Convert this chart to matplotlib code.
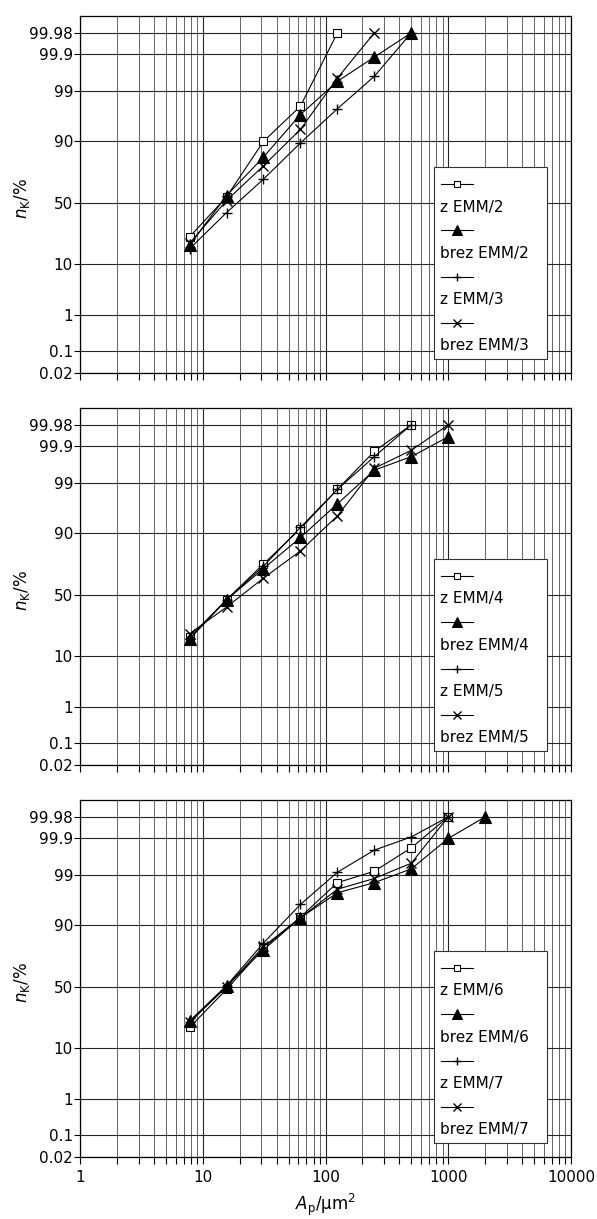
import matplotlib
matplotlib.use('Agg')
import matplotlib.pyplot as plt
import numpy as np
from matplotlib.lines import Line2D
from matplotlib.patches import Rectangle
from matplotlib.ticker import FixedLocator, NullLocator, NullFormatter, LogLocator
from statistics import NormalDist

plt.rcParams['font.family'] = 'DejaVu Sans'
plt.rcParams['mathtext.fontset'] = 'dejavusans'

# particle area classes (um^2), doubling series
area = [7.8125, 15.625, 31.25, 62.5, 125, 250, 500, 1000, 2000]

# cumulative share n_K in %
# panel 1
z_emm2 = [24, 55, 90, 97.8, 99.98]
brez_emm2 = [19, 56, 83, 96.7, 99.43, 99.88, 99.98]
z_emm3 = [17, 42, 69, 89.4, 97.5, 99.58, 99.98]
brez_emm3 = [20, 52, 78, 93.7, 99.53, 99.98]
# panel 2
z_emm4 = [19, 46, 74, 91.6, 98.6, 99.86, 99.98]
brez_emm4 = [18, 46, 70.8, 88.4, 97.1, 99.53, 99.80, 99.95]
z_emm5 = [18, 46, 72.5, 92, 98.6, 99.8, 99.98]
brez_emm5 = [21, 40, 63.7, 82, 95, 99.58, 99.87, 99.98]
# panel 3
z_emm6 = [20, 48, 79, 92.7, 98.5, 99.2, 99.81, 99.98]
brez_emm6 = [24, 51, 78, 92.5, 97.5, 98.5, 99.3, 99.90, 99.98]
z_emm7 = [23, 51, 82, 95.7, 99.15, 99.78, 99.91, 99.98]
brez_emm7 = [23, 50, 80, 92.5, 97.9, 98.8, 99.5, 99.98]

panels = [
    [('z EMM/2', z_emm2), ('brez EMM/2', brez_emm2), ('z EMM/3', z_emm3), ('brez EMM/3', brez_emm3)],
    [('z EMM/4', z_emm4), ('brez EMM/4', brez_emm4), ('z EMM/5', z_emm5), ('brez EMM/5', brez_emm5)],
    [('z EMM/6', z_emm6), ('brez EMM/6', brez_emm6), ('z EMM/7', z_emm7), ('brez EMM/7', brez_emm7)],
]

y_ticks = [0.02, 0.1, 1, 10, 50, 90, 99, 99.9, 99.98]
y_ticklabels = ['0.02', '0.1', '1', '10', '50', '90', '99', '99.9', '99.98']
x_ticks = [1, 10, 100, 1000, 10000]
x_ticklabels = ['1', '10', '100', '1000', '10000']

# marker styles per series (open square, filled triangle, plus, cross)
styles = [
    dict(marker='s', ms=5.5, mfc='white', mec='black', mew=0.8),
    dict(marker='^', ms=8, mfc='black', mec='black', mew=0.8),
    dict(marker='+', ms=7, mfc='black', mec='black', mew=1.0),
    dict(marker='x', ms=7, mfc='black', mec='black', mew=1.0),
]
legend_ms = [4.5, 7, 6, 6]

# normal-probability scale for the y axis
_nd = NormalDist()


def prob_fwd(p):
    p = np.clip(np.asarray(p, dtype=float), 1e-7, 100 - 1e-7)
    return np.vectorize(lambda v: _nd.inv_cdf(v / 100.0), otypes=[float])(p)


def prob_inv(z):
    z = np.clip(np.asarray(z, dtype=float), -8, 8)
    return np.vectorize(lambda v: _nd.cdf(v) * 100.0, otypes=[float])(z)


fig = plt.figure(figsize=(5.97, 12.19), dpi=100)
W, H = 597, 1219
left_px, right_px = 80, 571
tops = [16, 408, 800]
ph = 357

for i, (series, top) in enumerate(zip(panels, tops)):
    ax = fig.add_axes([left_px / W, 1 - (top + ph) / H, (right_px - left_px) / W, ph / H])
    ax.set_xscale('log')
    ax.set_yscale('function', functions=(prob_fwd, prob_inv))
    ax.set_xlim(1, 10000)
    ax.set_ylim(0.02, 99.995)

    ax.yaxis.set_major_locator(FixedLocator(y_ticks))
    ax.set_yticklabels(y_ticklabels)
    ax.yaxis.set_minor_locator(NullLocator())
    ax.xaxis.set_major_locator(FixedLocator(x_ticks))
    ax.xaxis.set_minor_locator(LogLocator(base=10, subs=np.arange(2, 10)))
    ax.xaxis.set_minor_formatter(NullFormatter())
    if i == 2:
        ax.set_xticklabels(x_ticklabels)
        ax.set_xlabel(r'$A_\mathrm{p}$/µm$^2$', fontsize=12, labelpad=5)
    else:
        ax.set_xticklabels([])

    ax.tick_params(axis='both', which='both', direction='out', labelsize=11, width=0.8, color='black')
    ax.tick_params(axis='x', which='both', length=5)
    ax.tick_params(axis='y', which='major', length=4, pad=1)
    ax.tick_params(axis='x', which='major', pad=4)

    ax.grid(True, which='major', axis='both', color='0.15', lw=0.8)
    ax.grid(True, which='minor', axis='x', color='0.3', lw=0.6)
    ax.set_axisbelow(True)
    for sp in ax.spines.values():
        sp.set_linewidth(0.9)

    ax.set_ylabel(r'$n_\mathrm{K}$/%', fontsize=12)
    ax.yaxis.set_label_coords(-0.098, 0.49)

    for (label, vals), st in zip(series, styles):
        ax.plot(area[:len(vals)], vals, color='black', lw=0.8, zorder=3, **st)

    # legend: handle on one row, label on the next row
    bx0, bx1 = (434 - left_px) / 491, (547 - left_px) / 491
    btop = 1 - 151 / ph
    bbot = 14 / ph
    ax.add_patch(Rectangle((bx0, bbot), bx1 - bx0, btop - bbot, transform=ax.transAxes,
                           facecolor='white', edgecolor='0.2', lw=0.8, zorder=5))
    hx0, hx1 = (441 - left_px) / 491, (473 - left_px) / 491
    for k, ((label, vals), st) in enumerate(zip(series, styles)):
        yh = btop - (17 + 46.3 * k) / ph
        yt = btop - (40 + 46.3 * k) / ph
        ax.add_line(Line2D([hx0, hx1], [yh, yh], color='black', lw=0.8, transform=ax.transAxes,
                           zorder=6, clip_on=False))
        lst = dict(st)
        lst['ms'] = legend_ms[k]
        ax.add_line(Line2D([(hx0 + hx1) / 2], [yh], transform=ax.transAxes, zorder=7,
                           clip_on=False, ls='none', **lst))
        ax.text(hx0 - 0.003, yt, label, transform=ax.transAxes, fontsize=11, va='center',
                ha='left', zorder=7)

fig.savefig('out.png', dpi=100, facecolor='white')
